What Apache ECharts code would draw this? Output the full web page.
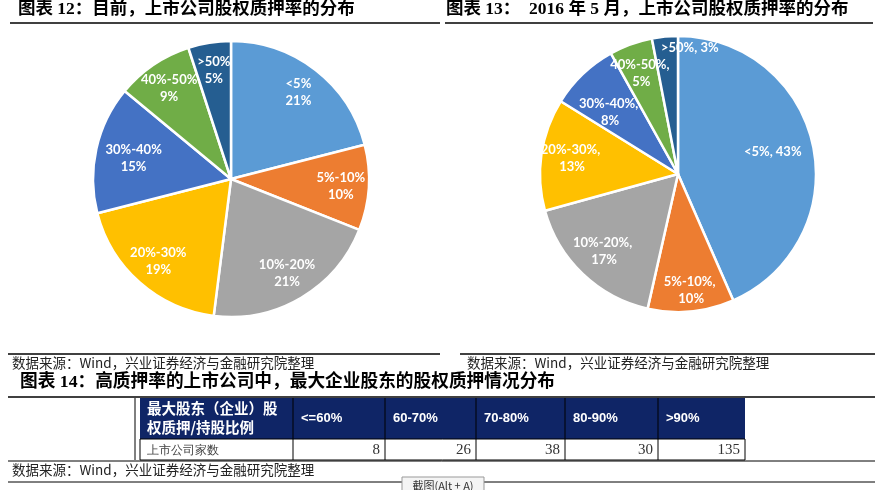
<!DOCTYPE html>
<html><head><meta charset="utf-8">
<script src="https://cdn.jsdelivr.net/npm/echarts@6/dist/echarts.min.js"></script>
<style>html,body{margin:0;padding:0;background:#fff}#c{width:885px;height:490px}</style>
</head><body><div id="c"></div>
<script>
// ---- data ----
const categories = ['<5%', '5%-10%', '10%-20%', '20%-30%', '30%-40%', '40%-50%', '>50%'];
const currentShares = [21, 10, 21, 19, 15, 9, 5];
const may2016Shares = [43, 10, 17, 13, 8, 5, 3];
const tableRowHeader = ['最大股东（企业）股', '权质押/持股比例'];
const tableBuckets = ['<=60%', '60-70%', '70-80%', '80-90%', '>90%'];
const tableRowLabel = '上市公司家数';
const companyCounts = [8, 26, 38, 30, 135];
const titles = [
  '图表 12：目前，上市公司股权质押率的分布',
  '图表 13：  2016 年 5 月，上市公司股权质押率的分布',
  '图表 14：高质押率的上市公司中，最大企业股东的股权质押情况分布'
];
const sourceText = '数据来源：Wind，兴业证券经济与金融研究院整理';

// ---- style ----
const colors = ['#5B9BD5', '#ED7D31', '#A5A5A5', '#FFC000', '#4472C4', '#70AD47', '#255E91'];
const titleFont = "'Liberation Serif','Noto Sans CJK SC'";
const cjk = "'Noto Sans CJK SC'";

function pieData(values) {
  return categories.map((n, i) => ({ name: n, value: values[i] }));
}
function pies(values, center, r, labelR0, fmt, width, nudge) {
  return [
    {
      type: 'pie', center: center, radius: [0, r], startAngle: 90, clockwise: true,
      data: pieData(values), color: colors, silent: true,
      label: { show: false }, labelLine: { show: false },
      itemStyle: { borderColor: '#fff', borderWidth: 2.5 }
    },
    {
      type: 'pie', center: center, radius: [labelR0, r], startAngle: 90, clockwise: true,
      data: pieData(values), silent: true, avoidLabelOverlap: false,
      itemStyle: { color: 'rgba(0,0,0,0)', borderWidth: 0 },
      labelLine: { show: false },
      labelLayout: function (p) { return (nudge && nudge[p.dataIndex]) || {}; },
      label: {
        show: true, position: 'inside', formatter: fmt, color: '#fff',
        fontFamily: 'Lato', fontWeight: 'bold', fontSize: 13, lineHeight: 17,
        width: width, overflow: 'break', align: 'center'
      }
    }
  ];
}

// ---- table layout ----
const colEdges = [140, 293, 385, 476, 565, 658, 745];
const headTop = 398, headBot = 439, rowBot = 460;
const g = [];
// titles & lines
g.push({ type: 'text', left: 18, top: 1, style: { text: titles[0], font: 'bold 17.5px ' + titleFont, fill: '#000' } });
g.push({ type: 'text', left: 446, top: 1, style: { text: titles[1], font: 'bold 17.5px ' + titleFont, fill: '#000' } });
g.push({ type: 'line', shape: { x1: 10, y1: 23, x2: 440, y2: 23 }, style: { stroke: '#000', lineWidth: 1.5 } });
g.push({ type: 'line', shape: { x1: 445, y1: 23, x2: 873, y2: 23 }, style: { stroke: '#000', lineWidth: 1.5 } });
g.push({ type: 'line', shape: { x1: 8, y1: 354, x2: 440, y2: 354 }, style: { stroke: '#000', lineWidth: 1.5 } });
g.push({ type: 'line', shape: { x1: 460, y1: 354, x2: 875, y2: 354 }, style: { stroke: '#000', lineWidth: 1.5 } });
g.push({ type: 'text', left: 12, top: 356, style: { text: sourceText, font: '13.5px ' + cjk, fill: '#222' } });
g.push({ type: 'text', left: 467, top: 356, style: { text: sourceText, font: '13.5px ' + cjk, fill: '#222' } });
g.push({ type: 'text', left: 20, top: 374, style: { text: titles[2], font: 'bold 17.7px ' + titleFont, fill: '#000' } });
g.push({ type: 'line', shape: { x1: 8, y1: 397, x2: 875, y2: 397 }, style: { stroke: '#000', lineWidth: 1.5 } });
// table header
g.push({ type: 'rect', shape: { x: colEdges[0], y: headTop, width: colEdges[6] - colEdges[0], height: headBot - headTop }, style: { fill: '#0F2566' } });
g.push({ type: 'rect', shape: { x: colEdges[0], y: headBot, width: colEdges[6] - colEdges[0], height: rowBot - headBot }, style: { fill: '#fff', stroke: '#000', lineWidth: 1 } });
for (let i = 1; i < 6; i++) {
  g.push({ type: 'line', shape: { x1: colEdges[i], y1: headTop, x2: colEdges[i], y2: rowBot }, style: { stroke: '#000', lineWidth: 1 } });
}
g.push({ type: 'line', shape: { x1: 135, y1: headTop, x2: 135, y2: rowBot }, style: { stroke: '#000', lineWidth: 1 } });
g.push({ type: 'text', left: colEdges[0] + 7, top: headTop + 1, style: { text: tableRowHeader.join('\n'), font: 'bold 14.5px ' + cjk, lineHeight: 19, fill: '#fff' } });
tableBuckets.forEach((t, i) => {
  g.push({ type: 'text', x: colEdges[i + 1] + 8, y: (headTop + headBot) / 2, style: { text: t, font: 'bold 13px \'Liberation Sans\'', fill: '#fff', verticalAlign: 'middle' } });
});
g.push({ type: 'text', x: colEdges[0] + 7, y: (headBot + rowBot) / 2 + 1, style: { text: tableRowLabel, font: '15.5px ' + cjk, fill: '#444', verticalAlign: 'middle', fontWeight: 300 } });
companyCounts.forEach((v, i) => {
  g.push({ type: 'text', x: colEdges[i + 2] - 5, y: (headBot + rowBot) / 2 + 1, style: { text: String(v), font: '15px \'Liberation Serif\'', fill: '#333', align: 'right', verticalAlign: 'middle' } });
});
// bottom
g.push({ type: 'line', shape: { x1: 8, y1: 461, x2: 875, y2: 461 }, style: { stroke: '#000', lineWidth: 1 } });
g.push({ type: 'text', left: 12, top: 463, style: { text: sourceText, font: '13.5px ' + cjk, fill: '#222' } });
g.push({ type: 'line', shape: { x1: 8, y1: 482, x2: 875, y2: 482 }, style: { stroke: '#000', lineWidth: 1 } });
g.push({ type: 'rect', shape: { x: 402, y: 477, width: 82, height: 16 }, style: { fill: '#f4f4f4', stroke: '#999', lineWidth: 1 } });
g.push({ type: 'text', x: 443, y: 486, style: { text: '截图(Alt + A)', font: '11px ' + cjk, fill: '#333', align: 'center', verticalAlign: 'middle' } });

const chart = echarts.init(document.getElementById('c'), null, { renderer: 'canvas' });
chart.setOption({
  backgroundColor: '#fff',
  animation: false,
  series: [].concat(
    pies(currentShares, [231, 179], 138, 76, '{b}\n{c}%', 72, { 4: { dx: 10, dy: 3 } }),
    pies(may2016Shares, [678, 174], 138, 70, '{b}, {c}%', 68,
      { 0: { dx: -10 }, 1: { dx: 3, dy: 10 }, 4: { dx: 6, dy: 16 }, 6: { dx: 22, dy: -20 } })
  ),
  graphic: g
});
</script>
</body></html>
